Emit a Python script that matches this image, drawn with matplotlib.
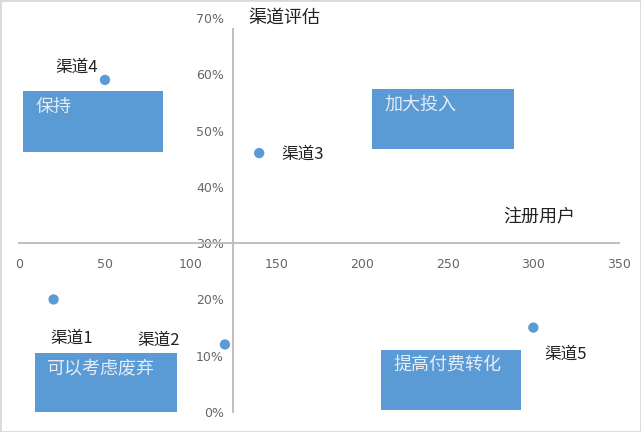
import matplotlib
matplotlib.use('Agg')
import matplotlib.pyplot as plt
from matplotlib.patches import Rectangle
from matplotlib.ticker import PercentFormatter

plt.rcParams['font.family'] = ['Noto Sans CJK SC', 'DejaVu Sans']

# channel data: registered users vs. rate
channels = ['渠道1', '渠道2', '渠道3', '渠道4', '渠道5']
users = [20, 120, 140, 50, 300]
rates = [0.20, 0.12, 0.46, 0.59, 0.15]

# label offsets in points (dx, dy) for each channel
label_offsets = [(-2, -28), (-63, 3), (16, -1), (-36, 9), (8, -19)]

# quadrant boxes: text, (x0, y0, x1, y1) in data units
quadrants = ['保持', '加大投入', '可以考虑废弃', '提高付费转化']
quad_boxes = [(2, 0.462, 84, 0.570), (206, 0.467, 289, 0.574),
              (9, 0.0, 92, 0.105), (211, 0.004, 293, 0.110)]

x_cross = 125
y_cross = 0.30
blue = '#5B9BD5'
grey = '#BFBFBF'

fig = plt.figure(figsize=(6.41, 4.32), dpi=100)
ax = fig.add_axes([19.3 / 641, 20 / 432, 599.7 / 641, 394 / 432])
ax.set_xlim(0, 350)
ax.set_ylim(0, 0.7)

# axes crossing in the middle of the chart
ax.spines['top'].set_visible(False)
ax.spines['right'].set_visible(False)
ax.spines['left'].set_position(('data', x_cross))
ax.spines['bottom'].set_position(('data', y_cross))
for s in ['left', 'bottom']:
    ax.spines[s].set_color(grey)
    ax.spines[s].set_linewidth(1.4)
ax.spines['left'].set_bounds(0, 0.68)

ax.set_xticks(range(0, 351, 50))
ax.set_yticks([i / 10 for i in range(8)])
ax.yaxis.set_major_formatter(PercentFormatter(1.0, decimals=0))
ax.tick_params(axis='x', length=0, pad=11, labelsize=9, labelcolor='#666666')
ax.tick_params(axis='y', length=0, pad=7, labelsize=9, labelcolor='#666666')
for lbl in ax.get_xticklabels() + ax.get_yticklabels():
    lbl.set_family('DejaVu Sans')

for (x0, y0, x1, y1), txt in zip(quad_boxes, quadrants):
    ax.add_patch(Rectangle((x0, y0), x1 - x0, y1 - y0, facecolor=blue,
                           edgecolor='none', zorder=2))
    ax.annotate(txt, (x0, y1), xytext=(9, -5), textcoords='offset points',
                ha='left', va='top', fontsize=13, color='#E4ECF7', zorder=3)

ax.scatter(users, rates, s=55, color=blue, zorder=4, edgecolors='none')
for name, x, y, (dx, dy) in zip(channels, users, rates, label_offsets):
    ax.annotate(name, (x, y), xytext=(dx, dy), textcoords='offset points',
                ha='left', va='center', fontsize=12, color='#222222')

fig.text(284 / 641, 1 - 18 / 432, '渠道评估', ha='center', va='center',
         fontsize=13, color='#222222')
fig.text(539 / 641, 1 - 217 / 432, '注册用户', ha='center', va='center',
         fontsize=13, color='#222222')

fig.patches.append(Rectangle((0, 0), 1, 1, transform=fig.transFigure,
                             fill=False, edgecolor='#D9D9D9', linewidth=2))

fig.savefig('out.png', dpi=100)
